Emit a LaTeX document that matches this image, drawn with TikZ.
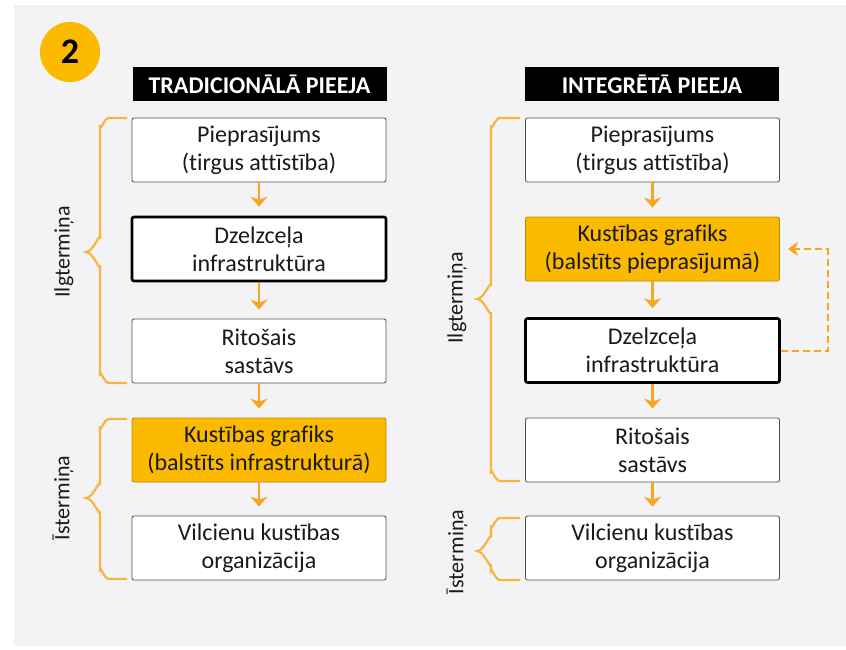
\documentclass[tikz,border=0pt]{standalone}
\usepackage{fontspec}
\setmainfont{Carlito}[Ligatures=NoCommon]
\usetikzlibrary{arrows.meta}
\definecolor{gold}{HTML}{FBB900}
\definecolor{amber}{HTML}{F6A623}
\definecolor{bracecol}{HTML}{F7B540}
\definecolor{panel}{HTML}{F3F3F5}
\definecolor{edge}{HTML}{4D4D4D}
\definecolor{ink}{HTML}{1A1A1A}

% arm end x, line x, top y, tip y, bottom y
\newcommand{\termbrace}[5]{%
  \draw[brace] (#1,#3) -- (#2+9,#3) to[out=180,in=270] (#2,#3+9)
    -- (#2,#4-13) to[out=90,in=0] (#2-14,#4) to[out=0,in=270] (#2,#4+13)
    -- (#2,#5-9) to[out=90,in=180] (#2+9,#5) -- (#1,#5);}

\begin{document}
\begin{tikzpicture}[x=1pt,y=-1pt,
    box/.style={draw=edge,line width=0.8pt,fill=white,rounded corners=2pt,
      minimum width=254pt,minimum height=64pt,align=center,inner sep=0pt,
      text=ink,font=\fontsize{24}{28}\selectfont},
    infra/.style={box,draw=black,line width=2.6pt},
    sched/.style={box,fill=gold,draw=gold!75!black},
    head/.style={fill=black,text=white,minimum width=254pt,minimum height=34pt,
      inner sep=0pt,font=\bfseries\fontsize{24}{26}\selectfont},
    flow/.style={draw=amber,line width=2.4pt,
      -{Stealth[length=10pt,width=17pt,inset=3pt]},shorten >=9pt},
    loop/.style={draw=amber,line width=2pt,dash pattern=on 7pt off 4pt,
      -{Stealth[length=10pt,width=14pt,inset=3pt]},shorten >=8pt},
    brace/.style={draw=bracecol,line width=2.2pt},
    term/.style={rotate=90,text=ink,font=\fontsize{22}{24}\selectfont}]
    \useasboundingbox (0,0) rectangle (846,649);
    \fill[white] (0,0) rectangle (846,649);
    \fill[panel] (14,5) rectangle (846,646);

    \node[circle,fill=gold,minimum size=60pt,inner sep=0pt,
      font=\bfseries\fontsize{36}{36}\selectfont] (num) at (70,52) {2};

    % traditional approach
    \begin{scope}
        \node[head] (lhead) at (259.5,84) {TRADICIONĀLĀ PIEEJA};
        \node[box] (ldem) at (259,150) {Pieprasījums\\(tirgus attīstība)};
        \node[infra] (linf) at (259,249) {Dzelzceļa\\infrastruktūra};
        \node[box] (lroll) at (259,351) {Ritošais\\sastāvs};
        \node[sched] (lsch) at (259,450) {Kustības grafiks\\(balstīts infrastrukturā)};
        \node[box] (lops) at (259,548) {Vilcienu kustības\\organizācija};
        \draw[flow] (ldem) -- (linf);
        \draw[flow] (linf) -- (lroll);
        \draw[flow] (lroll) -- (lsch);
        \draw[flow] (lsch) -- (lops);
        \termbrace{127}{100}{118}{252}{383}
        \termbrace{127}{100}{419}{498}{579}
        \node[term] (llong) at (64,252) {Ilgtermiņa};
        \node[term] (lshort) at (63,498) {Īstermiņa};
    \end{scope}

    % integrated approach
    \begin{scope}
        \node[head] (rhead) at (652,84) {INTEGRĒTĀ PIEEJA};
        \node[box] (rdem) at (652.5,150) {Pieprasījums\\(tirgus attīstība)};
        \node[sched] (rsch) at (652.5,249) {Kustības grafiks\\(balstīts pieprasījumā)};
        \node[infra] (rinf) at (652.5,350.5) {Dzelzceļa\\infrastruktūra};
        \node[box] (rroll) at (652.5,450) {Ritošais\\sastāvs};
        \node[box] (rops) at (652.5,548) {Vilcienu kustības\\organizācija};
        \draw[flow] (rdem) -- (rsch);
        \draw[flow] (rsch) -- (rinf);
        \draw[flow] (rinf) -- (rroll);
        \draw[flow] (rroll) -- (rops);
        \draw[loop] (rinf.east) -- ++(47,0) |- (rsch.east);
        \termbrace{520}{491}{118}{299}{481}
        \termbrace{520}{491}{518}{551}{580}
        \node[term] (rlong) at (457,298) {Ilgtermiņa};
        \node[term] (rshort) at (457,552) {Īstermiņa};
    \end{scope}
\end{tikzpicture}
\end{document}
